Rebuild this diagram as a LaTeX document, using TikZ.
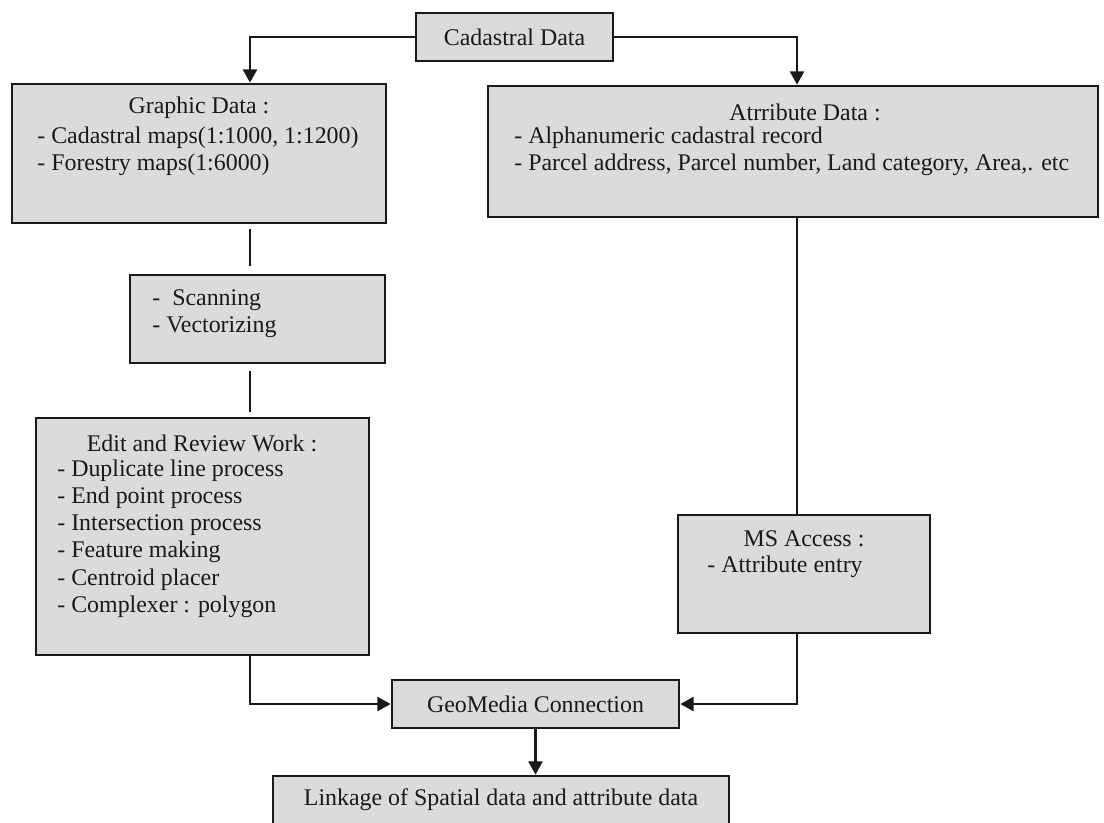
\documentclass[tikz,border=0pt]{standalone}
\usepackage{fontspec}
\setmainfont{Liberation Serif}
\usetikzlibrary{arrows.meta}
\begin{document}
\begin{tikzpicture}[x=0.02cm,y=-0.02cm,
  box/.style={draw=black!90, line width=1.6pt, fill=black!14, inner sep=0pt, rectangle},
  txt/.style={font=\fontsize{13.6}{15.5}\selectfont, text=black!90, inner sep=0pt},
  lst/.style={txt, align=left, anchor=west},
  conn/.style={draw=black!90, line width=1.2pt},
  arr/.style={conn, -{Triangle[length=7.5pt,width=8pt]}}]
\useasboundingbox (0,0) rectangle (1104,822);
\fill[white] (0,0) rectangle (1104,822);

% guide coordinates for vertical connector lines
\coordinate (vx) at (250,0);
\coordinate (vr) at (797,0);

% boxes
\node[box,txt,minimum width=3.94cm,minimum height=0.96cm] (cad) at (514.5,37) {Cadastral Data};
\node[box,minimum width=7.48cm,minimum height=2.78cm] (graphic) at (199,153.5) {};
\node[box,minimum width=12.2cm,minimum height=2.62cm] (attr) at (793,151.5) {};
\node[box,minimum width=5.1cm,minimum height=1.76cm] (scan) at (257.5,319) {};
\node[box,minimum width=6.66cm,minimum height=4.74cm] (edit) at (202.5,536.5) {};
\node[box,minimum width=5.04cm,minimum height=2.36cm] (ms) at (804,574) {};
\node[box,txt,minimum width=5.74cm,minimum height=0.96cm] (geo) at (535.5,704) {GeoMedia Connection};
\node[box,minimum width=9.12cm,minimum height=1.0cm] (link) at (501,801) {};
\node[txt] (linkt) at (501,800) {Linkage of Spatial data and attribute data};

% texts inside boxes
\node[txt] (gt) at (199,108) {Graphic Data :};
\node[lst] (gl) at (37,151.5) {- Cadastral maps(1:1000, 1:1200)\\- Forestry maps(1:6000)};
\node[txt] (at) at (805,112) {Atrribute Data :};
\node[lst] (al) at (514,151.5) {- Alphanumeric cadastral record\\- Parcel address, Parcel number, Land category, Area,. etc};
\node[lst] (sl) at (152,314) {-\ \ Scanning\\- Vectorizing};
\node[txt] (et) at (202,443) {Edit and Review Work :};
\node[lst] (el) at (57,538.5) {- Duplicate line process\\- End point process\\- Intersection process\\- Feature making\\- Centroid placer\\- Complexer : polygon};
\node[txt] (mt) at (804,539) {MS Access :};
\node[lst] (ml) at (707,567) {- Attribute entry};

% connectors
\draw[arr] (cad.west) -| (graphic.north -| vx);
\draw[arr] (cad.east) -| (attr.north -| vr);
\draw[conn, shorten <=2.8pt, shorten >=4.5pt] (graphic.south -| vx) -- (scan.north -| vx);
\draw[conn, shorten <=4pt, shorten >=2.8pt] (scan.south -| vx) -- (edit.north -| vx);
\draw[arr] (edit.south -| vx) |- (geo.west);
\draw[conn] (attr.south -| vr) -- (ms.north -| vr);
\draw[arr] (ms.south -| vr) |- (geo.east);
\draw[arr] (geo.south) -- (link.north -| geo.south);
\end{tikzpicture}
\end{document}
